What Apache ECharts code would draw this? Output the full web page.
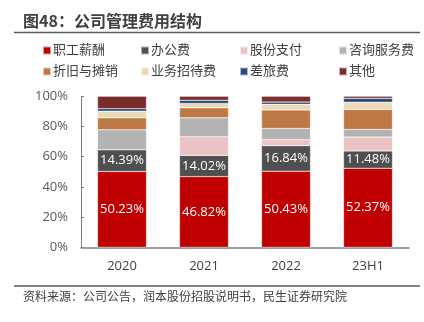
<!DOCTYPE html>
<html><head><meta charset="utf-8">
<script src="https://cdn.jsdelivr.net/npm/echarts@6/dist/echarts.min.js"></script>
<style>html,body{margin:0;padding:0;background:#fff}#c{width:424px;height:322px}</style>
</head><body><div id="c"></div>
<script>
var categories = ['2020', '2021', '2022', '23H1'];
var salary = [50.23, 46.82, 50.43, 52.37];
var office = [14.39, 14.02, 16.84, 11.48];
var share = [0, 12.4, 3.9, 9.2];
var consult = [13.2, 12.5, 7.5, 5.0];
var depr = [7.9, 6.6, 12.3, 13.2];
var entertain = [4.4, 2.9, 3.7, 4.8];
var travel = [1.7, 2.2, 1.5, 2.6];
var other = [8.18, 2.56, 3.83, 1.35];
var seriesNames = ['职工薪酬', '办公费', '股份支付', '咨询服务费', '折旧与摊销', '业务招待费', '差旅费', '其他'];
var seriesData = [salary, office, share, consult, depr, entertain, travel, other];
var colors = ['#C00000', '#4F4F51', '#EBC3C4', '#B3B3B3', '#BE7845', '#EBD8B6', '#2E4B78', '#7A2B2B'];
var yTicks = [0, 20, 40, 60, 80, 100];
var title = '图48：公司管理费用结构';
var source = '资料来源：公司公告，润本股份招股说明书，民生证券研究院';

var FONT = "'Open Sans', 'Noto Sans CJK SC', sans-serif";
var chart = echarts.init(document.getElementById('c'));

var series = seriesNames.map(function (n, i) {
  var s = {
    name: n, type: 'bar', stack: 'all', barWidth: 49,
    data: seriesData[i],
    itemStyle: { color: colors[i], borderColor: 'rgba(255,255,255,0.6)', borderWidth: 0.5 }
  };
  if (i < 2) {
    s.label = { show: true, position: 'inside', color: '#fff', fontSize: 13, fontFamily: FONT,
      formatter: function (p) { return p.value.toFixed(2) + '%'; } };
  }
  return s;
});

var legendX = [37, 135, 234, 333];
var legends = [];
for (var c = 0; c < 4; c++) {
  legends.push({
    orient: 'vertical', left: legendX[c], top: 38,
    data: [seriesNames[c], seriesNames[c + 4]],
    icon: 'rect', itemWidth: 8, itemHeight: 8, itemGap: 6,
    selectedMode: false,
    textStyle: { fontSize: 13, color: '#404040', fontFamily: FONT, lineHeight: 15, padding: [0, 0, 0, -3] }
  });
}

chart.setOption({
  animation: false,
  color: colors,
  textStyle: { fontFamily: FONT },
  legend: legends,
  grid: { left: 81, right: 15, top: 96.3, bottom: 74.7, containLabel: false },
  xAxis: {
    type: 'category', data: categories,
    axisLine: { lineStyle: { color: '#808080', width: 1.5 } },
    axisTick: { show: false },
    axisLabel: { fontSize: 13, color: '#404040', margin: 12, fontFamily: FONT }
  },
  yAxis: {
    type: 'value', min: 0, max: 100, interval: 20,
    axisLine: { show: true, lineStyle: { color: '#808080', width: 1 } },
    axisTick: { show: true, inside: true, length: 3, lineStyle: { color: '#808080' } },
    splitLine: { show: false },
    axisLabel: { fontSize: 13, color: '#595959', margin: 13, fontFamily: FONT, formatter: '{value}%' }
  },
  graphic: [
    { type: 'text', left: 23, top: 13, style: { text: title, fontSize: 16, fontWeight: 'bold', fill: '#404040', fontFamily: "'Noto Sans CJK SC', sans-serif" } },
    { type: 'line', shape: { x1: 14, y1: 32.5, x2: 420, y2: 32.5 }, style: { stroke: '#595959', lineWidth: 1.5 } },
    { type: 'line', shape: { x1: 14, y1: 286, x2: 420, y2: 286 }, style: { stroke: '#595959', lineWidth: 1.5 } },
    { type: 'text', left: 23, top: 292, style: { text: source, fontSize: 12, fill: '#404040', fontFamily: FONT } }
  ],
  series: series
});
</script>
</body></html>
